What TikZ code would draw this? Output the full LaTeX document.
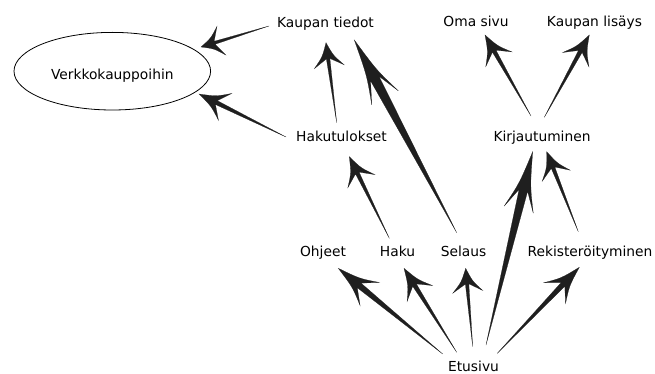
\documentclass[tikz,border=0pt]{standalone}
\usepackage{fontspec}
\setmainfont{DejaVu Sans}
\usetikzlibrary{calc,shapes.geometric}
\tikzset{
  lab/.style={anchor=base,inner sep=0pt,font=\fontsize{13.8}{16}\selectfont},
  arr/.style={fill=black!88,draw=black!88,line width=0.2pt,line join=miter},
}
\newcommand\tarr[2]{%
  \filldraw[arr] (#2)
    .. controls ($(#2)!0.17!(#1)!5.5pt!90:(#1)$) .. ($(#2)!0.3!(#1)!15pt!90:(#1)$)
    -- ($(#2)!0.2!(#1)!0.0275!90:(#1)$)
    -- (#1)
    -- ($(#2)!0.2!(#1)!0.0275!-90:(#1)$)
    -- ($(#2)!0.3!(#1)!15pt!-90:(#1)$)
    .. controls ($(#2)!0.17!(#1)!5.5pt!-90:(#1)$) .. (#2)
    -- cycle;}
\begin{document}
\begin{tikzpicture}[x=1pt,y=-1pt]
\useasboundingbox (0,0) rectangle (655,374);
% nodes
\node[ellipse,draw,line width=0.8pt,minimum width=196.6pt,minimum height=77.6pt,inner sep=0pt,
      text height=17pt,text depth=0.8pt,font=\fontsize{13.8}{16}\selectfont] (V) at (112.3,71.2) {Verkkokauppoihin};
\node[lab] (KT) at (325.5,27.5) {Kaupan tiedot};
\node[lab] (OS) at (476,27) {Oma sivu};
\node[lab] (KL) at (594.5,27) {Kaupan lisäys};
\node[lab] (HT) at (341.5,141.7) {Hakutulokset};
\node[lab] (KJ) at (542,141.7) {Kirjautuminen};
\node[lab] (OH) at (323,256.7) {Ohjeet};
\node[lab] (HA) at (397.5,256.7) {Haku};
\node[lab] (SE) at (463.5,256.7) {Selaus};
\node[lab] (RE) at (590,256.7) {Rekisteröityminen};
\node[lab] (ET) at (473.5,371) {Etusivu};
% connector end points
\coordinate (s1) at ([shift={(-56.5,-1.5)}]KT.base);
\coordinate (t1) at ([shift={(88.7,-24.2)}]V.center);
\coordinate (s2) at ([shift={(-55.5,-4.7)}]HT.base);
\coordinate (t2) at ([shift={(86.7,22.8)}]V.center);
\coordinate (s3) at ([shift={(-4.8,-19)}]HT.base);
\coordinate (t3) at ([shift={(0.5,15.2)}]KT.base);
\coordinate (s4) at ([shift={(-6.8,-24)}]SE.base);
\coordinate (t4) at ([shift={(28.8,12.5)}]KT.base);
\coordinate (s5) at ([shift={(-11,-25.7)}]KJ.base);
\coordinate (t5) at ([shift={(9,8)}]OS.base);
\coordinate (s6) at ([shift={(2.3,-24.4)}]KJ.base);
\coordinate (t6) at ([shift={(-5.2,8)}]KL.base);
\coordinate (s7) at ([shift={(-8.2,-18.4)}]HA.base);
\coordinate (t7) at ([shift={(7.8,15)}]HT.base);
\coordinate (s8) at ([shift={(12.5,-26)}]ET.base);
\coordinate (t8) at ([shift={(-9.3,10)}]KJ.base);
\coordinate (s9) at ([shift={(-11.7,-25)}]RE.base);
\coordinate (t9) at ([shift={(4.7,10)}]KJ.base);
\coordinate (s10) at ([shift={(-30.8,-17)}]ET.base);
\coordinate (t10) at ([shift={(15.3,11.6)}]OH.base);
\coordinate (s11) at ([shift={(-16.8,-18.7)}]ET.base);
\coordinate (t11) at ([shift={(6.5,11.6)}]HA.base);
\coordinate (s12) at ([shift={(-0.8,-24.3)}]ET.base);
\coordinate (t12) at ([shift={(2.2,11.6)}]SE.base);
\coordinate (s13) at ([shift={(23.8,-17.7)}]ET.base);
\coordinate (t13) at ([shift={(-10.7,10.6)}]RE.base);
% connectors
\tarr{s1}{t1}
\tarr{s2}{t2}
\tarr{s3}{t3}
\tarr{s4}{t4}
\tarr{s5}{t5}
\tarr{s6}{t6}
\tarr{s7}{t7}
\tarr{s8}{t8}
\tarr{s9}{t9}
\tarr{s10}{t10}
\tarr{s11}{t11}
\tarr{s12}{t12}
\tarr{s13}{t13}
\end{tikzpicture}
\end{document}
